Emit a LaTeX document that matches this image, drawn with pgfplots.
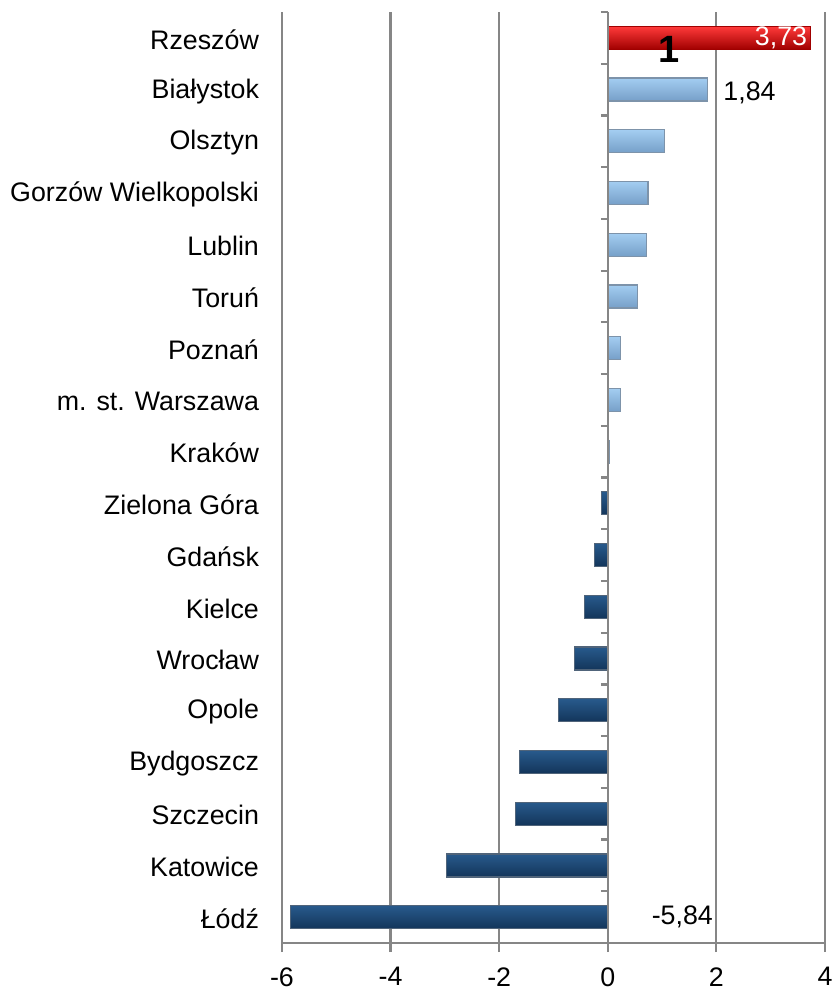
\documentclass[border=0pt]{standalone}
\usepackage{fontspec}
\setmainfont{Liberation Sans}
\usepackage{pgfplots}
\pgfplotsset{compat=1.18}
\definecolor{gridc}{HTML}{868686}
\definecolor{lbtop}{HTML}{A3CDF1}
\definecolor{lbmid}{HTML}{D3EDFF}
\definecolor{lbbot}{HTML}{769FC8}
\definecolor{lbedge}{HTML}{7D93AA}
\definecolor{dbtop}{HTML}{285A8C}
\definecolor{dbmid}{HTML}{3C72A8}
\definecolor{dbbot}{HTML}{13355A}
\definecolor{dbedge}{HTML}{50647A}
\definecolor{rdtop}{HTML}{FF3A3A}
\definecolor{rdmid}{HTML}{FF0000}
\definecolor{rdbot}{HTML}{A00000}
\tikzset{
  lb/.style={draw=lbedge, line width=0.6pt, top color=lbtop, middle color=lbmid, bottom color=lbbot},
  db/.style={draw=dbedge, line width=0.6pt, top color=dbtop, middle color=dbmid, bottom color=dbbot},
  rd/.style={draw=rdbot, line width=0.6pt, top color=rdtop, middle color=rdmid, bottom color=rdbot},
}

\begin{document}
\begin{tikzpicture}[font=\fontsize{13.4}{15}\selectfont]
\begin{axis}[
  scale only axis,
  width=271.5pt, height=465.5pt,
  xmin=-6, xmax=4, ymin=-0.5, ymax=17.5,
  xtick={-6,-4,-2,0,2,4},
  ytick={0,...,17},
  yticklabels={Łódź,Katowice,Szczecin,Bydgoszcz,Opole,Wrocław,Kielce,Gdańsk,Zielona Góra,Kraków,m. st. Warszawa,Poznań,Toruń,Lublin,Gorzów Wielkopolski,Olsztyn,Białystok,Rzeszów},
  axis x line*=bottom, axis y line*=left,
  y axis line style={draw=none},
  x axis line style={draw=gridc, line width=1.1pt},
  ytick style={draw=none},
  xtick style={draw=gridc, line width=1.1pt},
  tick align=outside, major tick length=4.5pt,
  xmajorgrids, grid style={gridc, line width=1.1pt},
  yticklabel style={xshift=-3.5pt, yshift=-0.8pt},
  xticklabel style={yshift=-4.2pt},
  /pgf/number format/assume math mode=true,
  xbar, bar width=11.5pt, bar shift=0pt,
  clip=false,
]
% one plot per bar, so that each bar gets its own shading
\addplot[db] coordinates {(-5.84,0)};
\addplot[db] coordinates {(-2.97,1)};
\addplot[db] coordinates {(-1.70,2)};
\addplot[db] coordinates {(-1.62,3)};
\addplot[db] coordinates {(-0.91,4)};
\addplot[db] coordinates {(-0.62,5)};
\addplot[db] coordinates {(-0.43,6)};
\addplot[db] coordinates {(-0.25,7)};
\addplot[db] coordinates {(-0.12,8)};
\addplot[lb] coordinates {(0.03,9)};
\addplot[lb] coordinates {(0.23,10)};
\addplot[lb] coordinates {(0.24,11)};
\addplot[lb] coordinates {(0.54,12)};
\addplot[lb] coordinates {(0.72,13)};
\addplot[lb] coordinates {(0.74,14)};
\addplot[lb] coordinates {(1.05,15)};
\addplot[lb] coordinates {(1.84,16)};
\addplot[rd] coordinates {(3.73,17)};
% zero line with category ticks
\draw[gridc, line width=1.1pt] (axis cs:0,-0.5) -- (axis cs:0,17.5);
\pgfplotsinvokeforeach{-0.5,0.5,1.5,2.5,3.5,4.5,5.5,6.5,7.5,8.5,9.5,10.5,11.5,12.5,13.5,14.5,15.5,16.5,17.5}{
  \draw[gridc, line width=1.1pt] ([xshift=-3.5pt]axis cs:0,#1) -- (axis cs:0,#1);
}
% data labels
\node[anchor=east, text=white] at (axis cs:3.8,17.0) {3,73};
\node[anchor=west] at (axis cs:2.0,15.93) {1,84};
\node[anchor=west] at (axis cs:0.68,0.0) {-5,84};
\node[font=\fontsize{19}{21}\selectfont\bfseries] at (axis cs:1.12,16.78) {1};
\coordinate (bl) at (rel axis cs:-0.5193,-0.0569);
\coordinate (tr) at (rel axis cs:1.0166,1.0129);
\end{axis}
\pgfresetboundingbox
\useasboundingbox (bl) rectangle (tr);
\end{tikzpicture}
\end{document}
